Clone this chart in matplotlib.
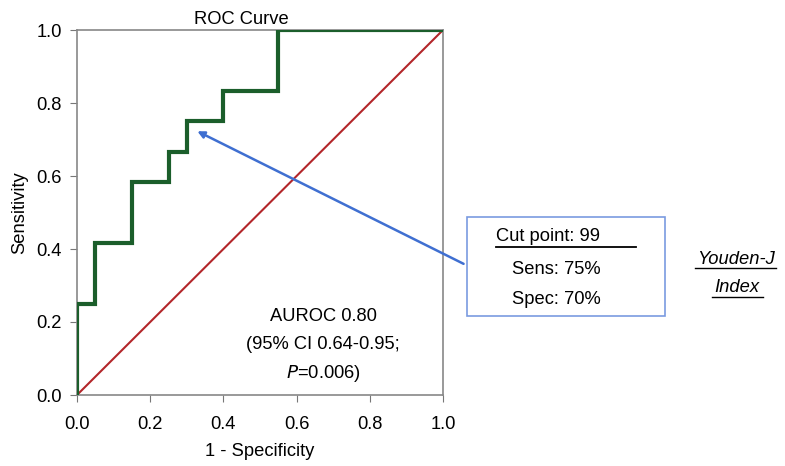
import matplotlib
matplotlib.use("Agg")
import matplotlib.pyplot as plt
from matplotlib.patches import Rectangle, FancyArrowPatch
from matplotlib.lines import Line2D

plt.rcParams['font.family'] = ['Liberation Sans', 'DejaVu Sans']

# ROC step curve (1 - specificity, sensitivity)
fpr = [0.0, 0.0, 0.05, 0.05, 0.15, 0.15, 0.25, 0.25, 0.30, 0.30, 0.40, 0.40, 0.55, 0.55, 1.0]
tpr = [0.0, 0.25, 0.25, 0.417, 0.417, 0.583, 0.583, 0.667, 0.667, 0.75, 0.75, 0.833, 0.833, 1.0, 1.0]
ref_x = [0.0, 1.0]
ref_y = [0.0, 1.0]
ticks = [0.0, 0.2, 0.4, 0.6, 0.8, 1.0]
tick_labels = ["0.0", "0.2", "0.4", "0.6", "0.8", "1.0"]
cut_point = (0.322, 0.726)
arrow_tail = (1.063, 0.356)

FS = 13.2
W, H = 785, 466
fig = plt.figure(figsize=(W / 100, H / 100), dpi=100)
ax = fig.add_axes([77 / W, 1 - 395 / H, 366 / W, 365 / H])

ax.plot(ref_x, ref_y, color='#b3262a', lw=1.5, zorder=2)
ax.plot(fpr, tpr, color='#1b5e2b', lw=3, zorder=3, solid_joinstyle='miter')
ax.set_xlim(0, 1)
ax.set_ylim(0, 1)
ax.set_xticks(ticks)
ax.set_xticklabels(tick_labels)
ax.set_yticks(ticks)
ax.set_yticklabels(tick_labels)
ax.tick_params(direction='out', length=5, color='#777777', labelsize=FS, pad=6)
ax.tick_params(axis='x', pad=10)
for s in ax.spines.values():
    s.set_color('#888888')
    s.set_linewidth(1.2)
ax.set_xlabel("1 - Specificity", fontsize=FS, labelpad=7)
ax.set_ylabel("Sensitivity", fontsize=FS, labelpad=6)
ax.text(0.45, 1.005, "ROC Curve", ha='center', va='bottom', fontsize=FS)

ax.text(0.672, 0.214, "AUROC 0.80", ha='center', va='center', fontsize=FS)
ax.text(0.672, 0.137, "(95% CI 0.64-0.95;", ha='center', va='center', fontsize=FS)
ax.text(0.672, 0.060, r"$\mathit{P}$=0.006)", ha='center', va='center', fontsize=FS)

arr = FancyArrowPatch(arrow_tail, cut_point, arrowstyle='-|>', mutation_scale=10,
                      color='#3f6fd1', lw=1.8, clip_on=False, zorder=4)
ax.add_patch(arr)

# annotation box in figure pixels
def fx(px):
    return px / W

def fy(py):
    return 1 - py / H

fig.patches.append(Rectangle((fx(467), fy(316)), (665 - 467) / W, (316 - 217) / H,
                             transform=fig.transFigure, fill=False,
                             edgecolor='#7a9be0', lw=1.2))
fig.text(fx(496), fy(237), "Cut point: 99", ha='left', va='center', fontsize=FS)
fig.lines.append(Line2D([fx(496), fx(636)], [fy(247), fy(247)], transform=fig.transFigure,
                        color='black', lw=1.3))
fig.text(fx(512), fy(270), "Sens: 75%", ha='left', va='center', fontsize=FS)
fig.text(fx(512), fy(300), "Spec: 70%", ha='left', va='center', fontsize=FS)

fig.text(fx(736), fy(259), "Youden-J", ha='center', va='center', fontsize=FS, style='italic')
fig.lines.append(Line2D([fx(695), fx(776)], [fy(268), fy(268)], transform=fig.transFigure,
                        color='black', lw=1.0))
fig.text(fx(737), fy(287), "Index", ha='center', va='center', fontsize=FS, style='italic')
fig.lines.append(Line2D([fx(712), fx(763)], [fy(297), fy(297)], transform=fig.transFigure,
                        color='black', lw=1.0))

fig.savefig("out.png", dpi=100)
